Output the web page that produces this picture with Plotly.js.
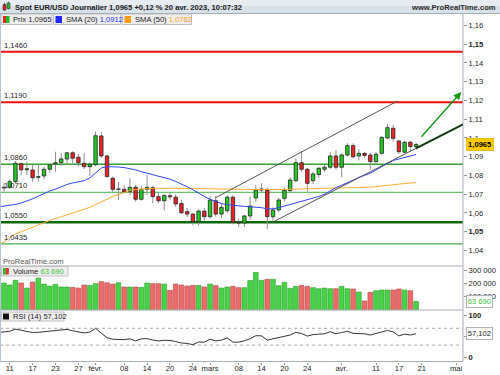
<!DOCTYPE html>
<html><head><meta charset="utf-8">
<script src="https://cdn.plot.ly/plotly-3.0.1.min.js"></script>
<style>html,body{margin:0;padding:0;background:#fff;}#chart{width:500px;height:375px;}</style>
</head><body><div id="chart"></div>
<script>
// ---- data ----
const dates = [
"2023-01-09","2023-01-10","2023-01-11","2023-01-12","2023-01-13","2023-01-16","2023-01-17","2023-01-18","2023-01-19","2023-01-20",
"2023-01-23","2023-01-24","2023-01-25","2023-01-26","2023-01-27","2023-01-30","2023-01-31",
"2023-02-01","2023-02-02","2023-02-03","2023-02-06","2023-02-07","2023-02-08","2023-02-09","2023-02-10",
"2023-02-13","2023-02-14","2023-02-15","2023-02-16","2023-02-17","2023-02-20","2023-02-21","2023-02-22","2023-02-23","2023-02-24",
"2023-02-27","2023-02-28",
"2023-03-01","2023-03-02","2023-03-03","2023-03-06","2023-03-07","2023-03-08","2023-03-09","2023-03-10",
"2023-03-13","2023-03-14","2023-03-15","2023-03-16","2023-03-17","2023-03-20","2023-03-21","2023-03-22","2023-03-23","2023-03-24",
"2023-03-27","2023-03-28","2023-03-29","2023-03-30","2023-03-31",
"2023-04-03","2023-04-04","2023-04-05","2023-04-06","2023-04-07","2023-04-10","2023-04-11","2023-04-12","2023-04-13","2023-04-14",
"2023-04-17","2023-04-18","2023-04-19","2023-04-20"];
const open  = [1.0645,1.0733,1.0737,1.0767,1.0862,1.0830,1.0829,1.0790,1.0797,1.0833,
1.0862,1.0868,1.0888,1.0921,1.0897,1.0865,1.0847,
1.0858,1.1011,1.0904,1.0785,1.0726,1.0726,1.0713,1.0737,
1.0673,1.0726,1.0735,1.0687,1.0665,1.0692,1.0684,1.0650,1.0607,1.0594,
1.0553,1.0610,
1.0580,1.0665,1.0594,1.0612,1.0684,1.0550,1.0546,1.0584,
1.0680,1.0722,1.0722,1.0580,1.0616,1.0678,1.0719,1.0772,1.0868,1.0833,
1.0772,1.0805,1.0833,1.0844,1.0904,
1.0844,1.0909,1.0959,1.0904,1.0918,1.0909,1.0874,1.0918,1.1000,1.1052,
1.0984,1.0924,1.0977,1.0954];
const high  = [1.0760,1.0758,1.0780,1.0877,1.0870,1.0872,1.0856,1.0862,1.0845,1.0860,
1.0927,1.0918,1.0925,1.0929,1.0914,1.0918,1.0870,
1.1035,1.1033,1.0912,1.0795,1.0767,1.0747,1.0785,1.0750,
1.0745,1.0805,1.0745,1.0710,1.0700,1.0705,1.0700,1.0670,1.0628,1.0600,
1.0620,1.0626,
1.0690,1.0690,1.0650,1.0695,1.0695,1.0570,1.0590,1.0687,
1.0748,1.0758,1.0735,1.0630,1.0680,1.0735,1.0790,1.0892,1.0930,1.0840,
1.0820,1.0845,1.0855,1.0925,1.0935,
1.0918,1.0972,1.0972,1.0940,1.0925,1.0920,1.0925,1.1010,1.1075,1.1070,
1.0990,1.0985,1.0985,1.0975];
const low   = [1.0640,1.0713,1.0730,1.0760,1.0800,1.0802,1.0767,1.0767,1.0780,1.0815,
1.0820,1.0850,1.0856,1.0856,1.0848,1.0835,1.0797,
1.0848,1.0895,1.0790,1.0712,1.0669,1.0705,1.0696,1.0660,
1.0665,1.0696,1.0652,1.0653,1.0613,1.0670,1.0632,1.0595,1.0577,1.0535,
1.0533,1.0560,
1.0570,1.0580,1.0575,1.0600,1.0540,1.0525,1.0525,1.0562,
1.0660,1.0710,1.0515,1.0555,1.0605,1.0660,1.0710,1.0765,1.0820,1.0713,
1.0755,1.0788,1.0820,1.0835,1.0830,
1.0790,1.0900,1.0890,1.0880,1.0895,1.0830,1.0865,1.0912,1.0995,1.0980,
1.0915,1.0920,1.0925,1.0940];
const close = [1.0733,1.0737,1.0767,1.0865,1.0830,1.0836,1.0788,1.0794,1.0833,1.0856,
1.0868,1.0888,1.0921,1.0892,1.0868,1.0847,1.0860,
1.1012,1.0904,1.0794,1.0726,1.0728,1.0713,1.0737,1.0673,
1.0726,1.0737,1.0687,1.0665,1.0693,1.0686,1.0648,1.0601,1.0594,1.0553,
1.0610,1.0580,
1.0669,1.0594,1.0630,1.0684,1.0550,1.0546,1.0584,1.0637,
1.0722,1.0728,1.0580,1.0616,1.0669,1.0722,1.0776,1.0868,1.0833,1.0758,
1.0808,1.0838,1.0844,1.0904,1.0844,
1.0909,1.0959,1.0900,1.0918,1.0907,1.0874,1.0913,1.1002,1.1055,1.0998,
1.0927,1.0977,1.0954,1.0965];
const sma20 = [1.0632,1.0636,1.0640,1.0646,1.0653,1.0663,1.0675,1.0690,1.0705,1.0717,
1.0727,1.0740,1.0752,1.0760,1.0766,1.0772,1.0787,
1.0815,1.0840,1.0847,1.0847,1.0845,1.0842,1.0838,1.0830,
1.0820,1.0812,1.0805,1.0797,1.0790,1.0780,1.0768,1.0755,1.0740,1.0724,
1.0705,1.0688,
1.0673,1.0660,1.0650,1.0644,1.0640,1.0637,1.0635,1.0633,
1.0631,1.0628,1.0622,1.0622,1.0628,1.0636,1.0645,1.0655,1.0663,1.0670,
1.0678,1.0688,1.0700,1.0718,1.0735,
1.0748,1.0760,1.0775,1.0790,1.0802,1.0812,1.0830,1.0848,1.0866,1.0880,
1.0888,1.0897,1.0905,1.0912];
const sma50 = [1.0432,1.0445,1.0470,1.0488,1.0500,1.0512,1.0524,1.0540,1.0550,1.0560,
1.0570,1.0580,1.0590,1.0600,1.0610,1.0620,1.0630,
1.0645,1.0660,1.0675,1.0688,1.0698,1.0710,1.0720,1.0725,
1.0728,1.0730,1.0731,1.0732,1.0732,1.0733,1.0733,1.0733,1.0732,1.0732,
1.0731,1.0730,
1.0729,1.0728,1.0727,1.0726,1.0725,1.0724,1.0724,1.0724,
1.0725,1.0725,1.0724,1.0724,1.0725,1.0726,1.0727,1.0728,1.0729,1.0729,
1.0730,1.0731,1.0732,1.0733,1.0734,
1.0735,1.0735,1.0735,1.0735,1.0736,1.0737,1.0740,1.0744,1.0748,1.0752,
1.0755,1.0758,1.0760,1.0762];
const volume = [190000,203000,188000,223000,203000,165000,210000,240000,195000,180000,
193000,173000,173000,170000,165000,188000,185000,
198000,213000,205000,195000,205000,173000,173000,173000,
170000,203000,198000,198000,195000,148000,195000,188000,180000,185000,
185000,173000,
195000,183000,165000,173000,178000,168000,168000,222000,
283000,223000,231000,231000,183000,208000,163000,178000,185000,178000,
168000,160000,165000,160000,160000,
178000,160000,158000,135000,68000,133000,145000,150000,150000,150000,
158000,150000,145000,63690];
const rsi = [60,62,63,68,65,63,60,60.5,62,64,
65,66,67.5,64,61,59,61,
70,58,48,44,44,43,45,40,
45,45.5,42,40,41.5,41,38.5,35,34,31,
37.5,37,
44,40,42,47,37,37,40.5,45,
52.4,52,42,44.5,47,51,54,60.5,57.5,51.5,
55,56,57,62,57,
60,63,58,57.5,57,54,58,62,65,61.5,
52,56,54,57.102];

const levels      = [1.1460, 1.1190, 1.0860, 1.0710, 1.0550, 1.0435];
const levelLabels = ["1,1460","1,1190","1,0860","1,0710","1,0550","1,0435"];

const upperTrendX = ["2023-03-01 21:20","2023-04-14 18:00"], upperTrendY = [1.0680, 1.1197];
const lowerTrendX = ["2023-03-16 02:00","2023-04-19 23:20"], lowerTrendY = [1.0553, 1.0945];
const extTrendX   = ["2023-04-19 23:20","2023-05-02 05:00"], extTrendY   = [1.0945, 1.1073];
const arrowX      = ["2023-04-20 16:48","2023-05-01 21:36"], arrowY      = [1.0998, 1.1245];

const xTickDates = ["2023-01-11","2023-01-17","2023-01-23","2023-01-27","2023-02-01","2023-02-08","2023-02-14","2023-02-20","2023-02-24",
"2023-03-01","2023-03-08","2023-03-14","2023-03-20","2023-03-24","2023-04-03","2023-04-11","2023-04-17","2023-04-21","2023-05-01"];
const xTickText  = ["11","17","23","27","févr.","08","14","20","24","mars","08","14","20","24","avr.","11","17","21","mai"];
const priceTicks    = [1.16,1.15,1.14,1.13,1.12,1.11,1.10,1.09,1.08,1.07,1.06,1.05,1.04];
const priceTickText = ["1,16","<b>1,15</b>","1,14","1,13","1,12","1,11","1,1","1,09","1,08","1,07","1,06","<b>1,05</b>","1,04"];
const volTicks    = [100000,200000,300000];
const volTickText = ["100 000","200 000","300 000"];
const rsiTicks    = [0,50,100];
const rsiTickText = ["<b>0</b>","50","<b>100</b>"];

// ---- helpers (pixel -> paper) ----
const W = 500, H = 375;
const PX = x => x / W, PY = y => 1 - y / H;
const FONT = "Liberation Sans, Arial, sans-serif";
const DAY = 86400000;

const up = close.map((c,i) => c >= open[i]);
const wickLen  = high.map((h,i) => h - low[i]);
const bodyBase = open.map((o,i) => Math.min(o, close[i]));
const bodyLen  = open.map((o,i) => Math.max(Math.abs(close[i]-o), 0.00008));

const traces = [
  { type:"bar", x:dates, y:wickLen, base:low, xaxis:"x", yaxis:"y", width:0.17*DAY,
    marker:{color:"#8c8c8c", line:{width:0}}, hoverinfo:"skip", showlegend:false },
  { type:"bar", x:dates, y:bodyLen, base:bodyBase, xaxis:"x", yaxis:"y", width:0.6*DAY,
    marker:{color: up.map(u => u ? "#22cc22" : "#ee2222"), line:{color:"#222", width:0.8}},
    hoverinfo:"skip", showlegend:false },
  { type:"scatter", mode:"lines", x:dates, y:sma50, xaxis:"x", yaxis:"y",
    line:{color:"#ffaa33", width:1}, hoverinfo:"skip", showlegend:false },
  { type:"scatter", mode:"lines", x:dates, y:sma20, xaxis:"x", yaxis:"y",
    line:{color:"#3344ff", width:1}, hoverinfo:"skip", showlegend:false },
  { type:"bar", x:dates, y:volume, xaxis:"x", yaxis:"y2", width:0.82*DAY,
    marker:{color: up.map(u => u ? "#44d444" : "#ee6a6a"), line:{color: up.map(u => u ? "#2a9a2a" : "#b04444"), width:0.6}},
    hoverinfo:"skip", showlegend:false },
  { type:"scatter", mode:"lines", x:dates, y:rsi, xaxis:"x", yaxis:"y3",
    line:{color:"#333", width:1}, hoverinfo:"skip", showlegend:false }
];

const levelStyle = [
  {color:"#ee1111", width:2}, {color:"#ee1111", width:2},
  {color:"#33a033", width:1.4}, {color:"#6cbf6c", width:1.2},
  {color:"#0a6a0a", width:2.6}, {color:"#4aa84a", width:1.2}
];

const shapes = [];
// header band
shapes.push({type:"rect", xref:"paper", yref:"paper", x0:0, x1:1, y0:PY(13.5), y1:1, fillcolor:"#d8e0e8", line:{width:0}, layer:"above"});
shapes.push({type:"rect", xref:"paper", yref:"paper", x0:0, x1:1, y0:PY(6), y1:1, fillcolor:"#e6ecf1", line:{width:0}, layer:"above"});
shapes.push({type:"line", xref:"paper", yref:"paper", x0:0, x1:1, y0:PY(13.5), y1:PY(13.5), line:{color:"#9fb0bf", width:1}, layer:"above"});
// header icon
shapes.push({type:"line", xref:"paper", yref:"paper", x0:PX(4.5), x1:PX(4.5), y0:PY(11), y1:PY(2.5), line:{color:"#555", width:0.8}, layer:"above"});
shapes.push({type:"rect", xref:"paper", yref:"paper", x0:PX(3), x1:PX(6), y0:PY(10), y1:PY(4.5), fillcolor:"#dd2222", line:{color:"#333", width:0.6}, layer:"above"});
shapes.push({type:"line", xref:"paper", yref:"paper", x0:PX(8.5), x1:PX(8.5), y0:PY(9.5), y1:PY(1.5), line:{color:"#555", width:0.8}, layer:"above"});
shapes.push({type:"rect", xref:"paper", yref:"paper", x0:PX(7), x1:PX(10), y0:PY(8.5), y1:PY(3), fillcolor:"#22bb22", line:{color:"#333", width:0.6}, layer:"above"});
// panel borders
shapes.push({type:"line", xref:"paper", yref:"paper", x0:0, x1:PX(463), y0:PY(266), y1:PY(266), line:{color:"#a8b0b8", width:1}});
shapes.push({type:"line", xref:"paper", yref:"paper", x0:0, x1:PX(463), y0:PY(310), y1:PY(310), line:{color:"#a8b0b8", width:1}});
shapes.push({type:"line", xref:"paper", yref:"paper", x0:0, x1:PX(463), y0:PY(361.5), y1:PY(361.5), line:{color:"#a8b0b8", width:1}});
shapes.push({type:"line", xref:"paper", yref:"paper", x0:PX(463), x1:PX(463), y0:PY(361.5), y1:PY(13.5), line:{color:"#a8b0b8", width:1}});
shapes.push({type:"line", xref:"paper", yref:"paper", x0:PX(0.5), x1:PX(0.5), y0:PY(361.5), y1:PY(13.5), line:{color:"#b8c4d0", width:1}});
// level lines
levels.forEach((v,i) => shapes.push({type:"line", xref:"x domain", yref:"y", x0:0, x1:1, y0:v, y1:v, line:levelStyle[i], layer:"below"}));
// trend lines
shapes.push({type:"line", xref:"x", yref:"y", x0:upperTrendX[0], x1:upperTrendX[1], y0:upperTrendY[0], y1:upperTrendY[1], line:{color:"#555", width:1}});
shapes.push({type:"line", xref:"x", yref:"y", x0:lowerTrendX[0], x1:lowerTrendX[1], y0:lowerTrendY[0], y1:lowerTrendY[1], line:{color:"#555", width:1}});
shapes.push({type:"line", xref:"x", yref:"y", x0:extTrendX[0], x1:extTrendX[1], y0:extTrendY[0], y1:extTrendY[1], line:{color:"#0c3a0c", width:2}});
// rsi dotted levels
[70,30].forEach(v => shapes.push({type:"line", xref:"x domain", yref:"y3", x0:0, x1:1, y0:v, y1:v, line:{color:"#aaa", width:1, dash:"dot"}, layer:"below"}));
// legend boxes
function box(x0,x1,y0,y1){ shapes.push({type:"rect", xref:"paper", yref:"paper", x0:PX(x0), x1:PX(x1), y0:PY(y1), y1:PY(y0), fillcolor:"#eeeeee", line:{color:"#b4b4b4", width:0.8}, layer:"above"}); }
function sq(x0,x1,y0,y1,c){ shapes.push({type:"rect", xref:"paper", yref:"paper", x0:PX(x0), x1:PX(x1), y0:PY(y1), y1:PY(y0), fillcolor:c, line:{width:0}, layer:"above"}); }
box(1,52,14,24.5); box(53.5,120.5,14,24.5); box(122,191.5,14,24.5);
sq(3,6,16,23,"#dd2222"); sq(6,9.5,16,23,"#22bb22");
sq(55.5,62,16,23,"#1f2bff"); sq(124.5,131,16,23,"#ff9a1a");
box(1.5,68,266.5,276); sq(3,5.8,268,274.5,"#22bb22"); sq(5.8,8.8,268,274.5,"#dd3333");
box(1.5,64,312,321); sq(3,9,313.5,319.5,"#111");

const small = (t, x, y, opts={}) => Object.assign({text:t, xref:"paper", yref:"paper", x:PX(x), y:PY(y), xanchor:"left", yanchor:"middle",
  showarrow:false, font:{family:FONT, size:7.6, color:"#222"}}, opts);

const annotations = [
  small("<b>Spot EUR/USD Journalier 1,0965 +0,12 % 20 avr. 2023, 10:07:32</b>", 12.5, 7, {font:{family:FONT, size:7.6, color:"#1a1a1a"}}),
  small("<b>www.ProRealTime.com</b>", 498, 7, {xanchor:"right", font:{family:FONT, size:7.6, color:"#2a2a2a"}}),
  small("Prix 1,0965", 11, 19.5),
  small("SMA (20) <span style='color:#2233ff'>1,0912</span>", 63.5, 19.5),
  small("SMA (50) <span style='color:#ff9a1a'>1,0762</span>", 132.5, 19.5),
  small("ProRealTime.com", 0.5, 261.5, {font:{family:FONT, size:7.6, color:"#555"}}),
  small("Volume <span style='color:#33c233'>63 690</span>", 10.5, 271.5),
  small("RSI (14) 57,102", 10.5, 316.8),
  {text:"<b>1,0965</b>", xref:"paper", yref:"y", x:PX(465.5), y:close[close.length-1], xanchor:"left", yanchor:"middle", showarrow:false,
    bgcolor:"#ffcc00", bordercolor:"#d8a800", borderwidth:0.6, borderpad:1.5, font:{family:FONT, size:7.6, color:"#000"}},
  {text:"63 690", xref:"paper", yref:"y2", x:PX(465.5), y:volume[volume.length-1], xanchor:"left", yanchor:"middle", showarrow:false,
    bgcolor:"#fff", bordercolor:"#9aa4ae", borderwidth:0.8, borderpad:1, font:{family:FONT, size:7.6, color:"#33c233"}},
  {text:"57,102", xref:"paper", yref:"y3", x:PX(465.5), y:rsi[rsi.length-1], xanchor:"left", yanchor:"middle", showarrow:false,
    bgcolor:"#fff", bordercolor:"#9aa4ae", borderwidth:0.8, borderpad:1, font:{family:FONT, size:7.6, color:"#222"}},
  {text:"", xref:"x", yref:"y", axref:"x", ayref:"y", x:arrowX[1], y:arrowY[1], ax:arrowX[0], ay:arrowY[0],
    showarrow:true, arrowhead:2, arrowsize:1.1, arrowwidth:1.4, arrowcolor:"#139a13"}
];
levels.forEach((v,i) => annotations.push({text:levelLabels[i], xref:"paper", yref:"y", x:PX(1.5), y:v, xanchor:"left", yanchor:"bottom",
  yshift:0, showarrow:false, font:{family:FONT, size:7.6, color:"#222"}}));

const axFont = {family:FONT, size:7.6, color:"#222"};
const layout = {
  width:W, height:H, margin:{l:0, r:0, t:0, b:0},
  paper_bgcolor:"#fff", plot_bgcolor:"rgba(0,0,0,0)",
  showlegend:false, barmode:"overlay", hovermode:false,
  xaxis:{domain:[0, PX(463)], anchor:"y3", type:"date",
    range:["2023-01-09 07:12","2023-05-02 04:48"],
    rangebreaks:[{bounds:["sat","mon"]}],
    tickmode:"array", tickvals:xTickDates, ticktext:xTickText, ticks:"outside", ticklen:2, tickcolor:"#999",
    ticklabelstandoff:-3,
    tickfont:axFont, showgrid:false, zeroline:false, showline:false, fixedrange:true},
  yaxis:{domain:[PY(266), PY(13.5)], anchor:"x", side:"right", range:[1.0317, 1.1664],
    tickmode:"array", tickvals:priceTicks, ticktext:priceTickText, ticks:"outside", ticklen:3, tickcolor:"#999",
    tickfont:axFont, showgrid:false, zeroline:false, showline:false, fixedrange:true},
  yaxis2:{domain:[PY(310), PY(266)], anchor:"x", side:"right", range:[0, 331000],
    tickmode:"array", tickvals:volTicks, ticktext:volTickText, ticks:"outside", ticklen:3, tickcolor:"#999",
    tickfont:axFont, showgrid:false, zeroline:false, showline:false, fixedrange:true},
  yaxis3:{domain:[PY(361.5), PY(310)], anchor:"x", side:"right", range:[-9.05, 113.6],
    tickmode:"array", tickvals:rsiTicks, ticktext:rsiTickText, ticks:"outside", ticklen:3, tickcolor:"#999",
    tickfont:axFont, showgrid:false, zeroline:false, showline:false, fixedrange:true},
  shapes:shapes, annotations:annotations
};
Plotly.newPlot("chart", traces, layout, {staticPlot:true, displayModeBar:false});
</script></body></html>
